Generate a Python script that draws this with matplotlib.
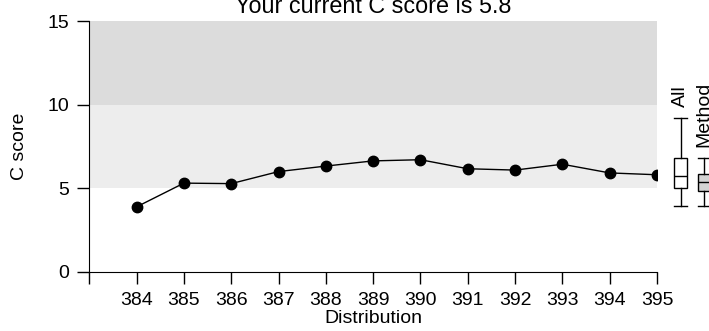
import matplotlib
matplotlib.use('Agg')
import matplotlib.pyplot as plt

plt.rcParams['font.family'] = ['Liberation Sans', 'DejaVu Sans']
plt.rcParams['font.size'] = 14

# Data
dist = [384, 385, 386, 387, 388, 389, 390, 391, 392, 393, 394, 395]
c_score = [3.88, 5.30, 5.27, 5.99, 6.32, 6.63, 6.70, 6.16, 6.08, 6.43, 5.91, 5.80]
current = 5.8

# reference boxplots (whisker low, q1, median, q3, whisker high)
box_labels = ['All', 'Method']
box_whislo = [3.92, 3.92]
box_q1 = [5.03, 4.85]
box_med = [5.73, 5.35]
box_q3 = [6.79, 5.85]
box_whishi = [9.18, 6.80]
box_fill = ['white', '#D3D3D3']

# shaded score bands
band_lo = [5, 10]
band_hi = [10, 15]
band_col = ['#EDEDED', '#DCDCDC']

fig = plt.figure(figsize=(7.09, 3.31), dpi=100)
ax = fig.add_axes([89.3/709, 1 - 271.7/331, (657 - 89.3)/709, (271.7 - 21)/331])

for lo, hi, col in zip(band_lo, band_hi, band_col):
    ax.axhspan(lo, hi, color=col, lw=0, zorder=0)

ax.plot(dist, c_score, color='black', lw=1, marker='o', ms=7.5, zorder=3)

ax.set_xlim(383, 395)
ax.set_ylim(0, 15)
ax.set_xticks([383] + dist)
ax.set_xticklabels([''] + [str(d) for d in dist])
ax.set_yticks([0, 5, 10, 15])

for s in ['top', 'right']:
    ax.spines[s].set_visible(False)
ax.tick_params(direction='out', length=8.6, width=1, pad=6)

ax.set_xlabel('Distribution', labelpad=1)
ax.set_ylabel('C score', labelpad=14)
ax.set_title(f'Your current C score is {current}', pad=6)

# boxplots drawn to the right of the plot area
stats = []
for i in range(len(box_labels)):
    stats.append(dict(whislo=box_whislo[i], q1=box_q1[i], med=box_med[i],
                      q3=box_q3[i], whishi=box_whishi[i], fliers=[]))
pos = [395.50, 396.0]
bp = ax.bxp(stats, positions=pos, widths=0.27, capwidths=0.27, patch_artist=True,
            manage_ticks=False, showfliers=False,
            boxprops=dict(edgecolor='black', lw=1),
            medianprops=dict(color='black', lw=1),
            whiskerprops=dict(color='black', lw=1),
            capprops=dict(color='black', lw=1))
for patch, col in zip(bp['boxes'], box_fill):
    patch.set_facecolor(col)
for key in bp:
    for art in bp[key]:
        art.set_clip_on(False)

for p, hi, lab in zip(pos, box_whishi, box_labels):
    ax.annotate(lab, (p, hi), xytext=(0, 8), textcoords='offset points',
                rotation=90, ha='center', va='bottom', annotation_clip=False)

fig.savefig('out.png', dpi=100)
